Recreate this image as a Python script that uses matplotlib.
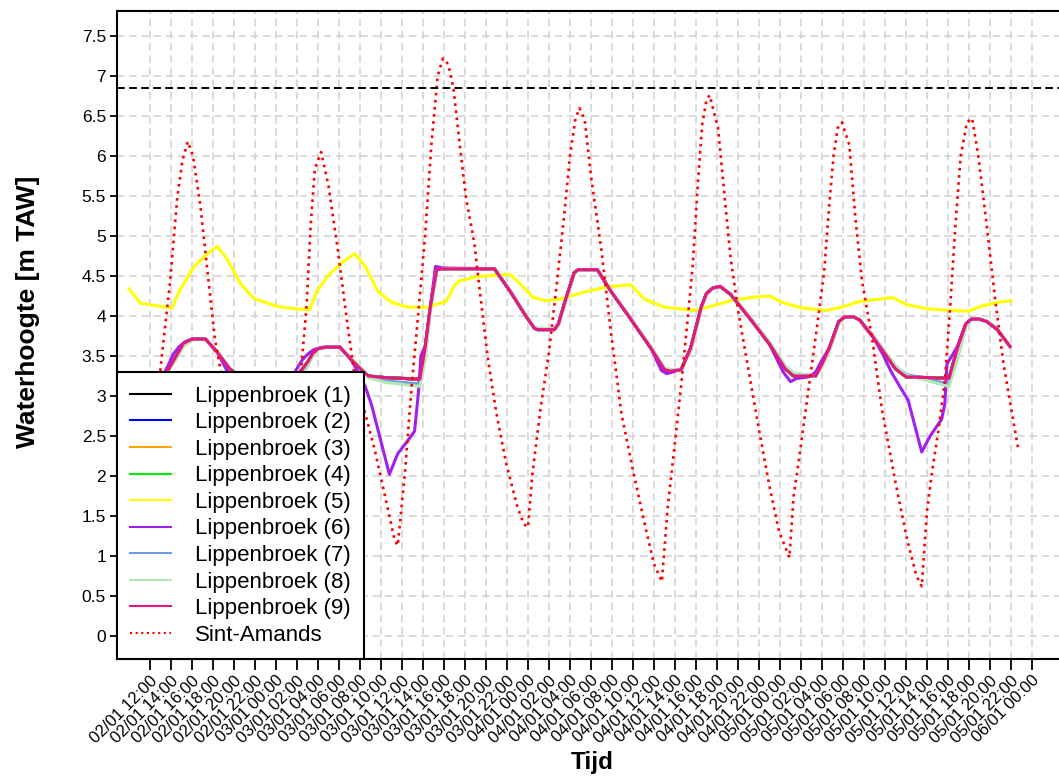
import numpy as np
import pandas as pd
import matplotlib
matplotlib.use("Agg")
import matplotlib.pyplot as plt
import matplotlib.dates as mdates

plt.rcParams["font.family"] = ["Liberation Sans", "DejaVu Sans"]

# tijd in uren t.o.v. 02/01 12:00
start = pd.Timestamp("2019-01-02 12:00")

# Lippenbroek (1)-(4) en (9) vallen samen
t_lb = [-2, -1, 0, 1, 1.8, 2.5, 3.2, 4.0, 5.3, 6.4, 7.6, 8.5, 10, 13.5, 14.3,
        15.0, 15.5, 16.0, 16.7, 18.1, 19.2, 20.2, 20.8, 22.4, 25.7, 26.2, 26.7,
        27.3, 27.9, 32.8, 34.3, 35.8, 36.6, 36.9, 38.5, 38.9, 39.6, 40.4, 40.8,
        42.6, 43.9, 45.8, 47.7, 49.0, 49.6, 50.6, 51.5, 52.5, 53.0, 53.6, 54.3,
        55.3, 57.2, 59.0, 60.5, 61.3, 63.4, 64.0, 64.7, 65.6, 66.2, 67.0, 67.6,
        68.8, 71.0, 72.0, 76.1, 76.9, 77.7, 78.2, 79.0, 79.7, 80.7, 81.9]
lb_main = [3.28, 3.25, 3.22, 3.24, 3.34, 3.50, 3.66, 3.71, 3.71, 3.55, 3.34, 3.25,
           3.22, 3.21, 3.30, 3.42, 3.53, 3.59, 3.61, 3.61, 3.45, 3.32, 3.25, 3.23,
           3.21, 3.60, 4.11, 4.58, 4.59, 4.59, 4.31, 4.00, 3.85, 3.83, 3.83, 3.90,
           4.21, 4.54, 4.58, 4.58, 4.31, 3.96, 3.60, 3.33, 3.31, 3.33, 3.60, 4.11,
           4.28, 4.35, 4.37, 4.27, 3.96, 3.65, 3.34, 3.25, 3.25, 3.40, 3.60, 3.93,
           3.99, 3.99, 3.95, 3.75, 3.34, 3.24, 3.22, 3.60, 3.90, 3.96, 3.96, 3.93,
           3.83, 3.62]
lb_7 = [3.28, 3.25, 3.22, 3.24, 3.34, 3.48, 3.64, 3.71, 3.71, 3.55, 3.34, 3.23,
        3.18, 3.15, 3.26, 3.40, 3.52, 3.59, 3.61, 3.61, 3.46, 3.33, 3.24, 3.19,
        3.15, 3.50, 4.08, 4.58, 4.59, 4.59, 4.31, 4.00, 3.85, 3.84, 3.84, 3.90,
        4.20, 4.54, 4.58, 4.58, 4.31, 3.96, 3.61, 3.34, 3.32, 3.33, 3.58, 4.10,
        4.28, 4.35, 4.37, 4.27, 3.97, 3.67, 3.37, 3.28, 3.25, 3.38, 3.58, 3.92,
        3.99, 3.99, 3.95, 3.76, 3.37, 3.27, 3.15, 3.52, 3.88, 3.96, 3.96, 3.93,
        3.83, 3.62]
lb_8 = [3.28, 3.25, 3.22, 3.24, 3.33, 3.46, 3.62, 3.70, 3.71, 3.56, 3.35, 3.22,
        3.16, 3.12, 3.22, 3.36, 3.50, 3.58, 3.61, 3.61, 3.47, 3.34, 3.23, 3.17,
        3.12, 3.45, 4.05, 4.57, 4.59, 4.59, 4.32, 4.01, 3.86, 3.85, 3.84, 3.89,
        4.18, 4.53, 4.58, 4.58, 4.32, 3.97, 3.62, 3.35, 3.33, 3.33, 3.56, 4.08,
        4.27, 4.35, 4.37, 4.28, 3.98, 3.68, 3.38, 3.29, 3.24, 3.36, 3.56, 3.90,
        3.99, 3.99, 3.95, 3.77, 3.38, 3.26, 3.12, 3.45, 3.86, 3.96, 3.96, 3.93,
        3.83, 3.62]

t_lb6 = [-2, -1, 0, 1.0, 1.8, 2.2, 2.8, 3.4, 4.0, 5.3, 6.4, 7.4, 8.5, 9.5, 10.3,
         11.5, 12.5, 13.2, 13.8, 14.5, 15.0, 15.6, 16.4, 18.1, 19.2, 19.8, 20.5,
         21.1, 22.1, 22.8, 23.6, 24.6, 25.2, 25.6, 25.8, 26.3, 26.7, 27.2, 27.9,
         32.8, 34.3, 35.8, 36.6, 36.9, 38.5, 38.9, 39.6, 40.4, 40.8, 42.6, 43.9,
         45.8, 47.7, 48.7, 49.2, 49.8, 50.6, 51.5, 52.5, 53.0, 53.6, 54.3, 55.3,
         57.2, 59.0, 60.3, 61.0, 61.6, 62.8, 63.4, 64.0, 64.7, 65.6, 66.2, 67.0,
         67.6, 68.8, 69.8, 70.6, 71.5, 72.2, 72.8, 73.5, 74.3, 75.4, 75.7, 75.9,
         76.5, 76.9, 77.7, 78.2, 79.0, 79.7, 80.7, 81.9]
lb_6 = [3.25, 3.15, 3.05, 3.20, 3.40, 3.52, 3.62, 3.68, 3.71, 3.71, 3.55, 3.30,
        2.80, 2.30, 2.10, 2.40, 2.70, 3.10, 3.30, 3.45, 3.52, 3.58, 3.61, 3.61,
        3.45, 3.30, 3.12, 2.89, 2.38, 2.02, 2.28, 2.45, 2.56, 3.09, 3.50, 3.65,
        4.11, 4.62, 4.60, 4.59, 4.31, 4.00, 3.85, 3.83, 3.83, 3.90, 4.21, 4.54,
        4.58, 4.58, 4.31, 3.96, 3.60, 3.32, 3.28, 3.30, 3.34, 3.60, 4.11, 4.28,
        4.35, 4.37, 4.27, 3.96, 3.65, 3.30, 3.18, 3.22, 3.24, 3.30, 3.45, 3.60,
        3.93, 3.99, 3.99, 3.95, 3.75, 3.52, 3.30, 3.10, 2.95, 2.65, 2.30, 2.50,
        2.71, 2.90, 3.40, 3.53, 3.62, 3.90, 3.96, 3.96, 3.93, 3.83, 3.62]

t_lb5 = [-2.0, -0.9, 1.0, 2.1, 2.7, 4.2, 5.4, 6.4, 7.3, 8.6, 9.9, 12.1, 13.8, 15.2,
         15.9, 17.0, 18.3, 19.5, 20.5, 21.7, 23.0, 24.6, 26.5, 27.4, 28.2, 29.0,
         29.5, 31.1, 32.7, 34.3, 35.2, 36.5, 37.7, 39.0, 40.6, 42.0, 43.9, 45.8,
         47.1, 49.0, 51.8, 53.1, 55.3, 57.1, 59.0, 60.2, 62.1, 64.4, 65.9, 67.5,
         70.7, 72.1, 74.0, 76.2, 78.0, 79.1, 80.7, 82.0]
lb_5 = [4.34, 4.16, 4.12, 4.10, 4.29, 4.62, 4.77, 4.87, 4.72, 4.41, 4.22, 4.12,
        4.09, 4.08, 4.31, 4.51, 4.67, 4.78, 4.62, 4.31, 4.17, 4.11, 4.11, 4.15,
        4.18, 4.38, 4.44, 4.49, 4.51, 4.52, 4.41, 4.23, 4.19, 4.21, 4.27, 4.32,
        4.37, 4.39, 4.21, 4.11, 4.07, 4.11, 4.19, 4.23, 4.25, 4.17, 4.10, 4.07,
        4.11, 4.18, 4.23, 4.14, 4.09, 4.07, 4.06, 4.12, 4.17, 4.19]

t_sa = [-1.0, -0.4, 0.3, 1.0, 1.9, 2.6, 3.1, 3.6, 4.1, 4.8, 5.6, 6.2, 6.7, 7.5,
        8.5, 9.5, 10.5, 11.3, 11.8, 12.5, 13.3, 14.0, 14.4, 14.9, 15.3, 15.7,
        16.3, 17.0, 17.9, 18.7, 19.5, 20.5, 21.4, 22.7, 23.3, 23.6, 24.3, 24.9,
        25.6, 26.2, 26.8, 27.4, 27.9, 28.4, 28.9, 29.5, 30.1, 30.9, 31.6, 32.2,
        33.0, 33.9, 35.0, 35.6, 36.0, 36.4, 37.2, 38.0, 38.7, 39.4, 40.0, 40.5,
        40.9, 41.4, 42.0, 43.0, 43.9, 44.9, 46.0, 47.1, 48.0, 48.75, 49.3, 49.9,
        50.6, 51.2, 51.7, 52.2, 52.6, 53.0, 53.3, 54.1, 54.7, 55.3, 56.1, 57.1,
        58.0, 59.0, 59.9, 60.9, 61.3, 61.8, 62.4, 63.4, 64.2, 64.7, 65.1, 65.5,
        65.9, 66.6, 67.2, 67.8, 68.8, 69.7, 71.0, 72.1, 73.0, 73.5, 74.0, 74.5,
        75.1, 75.7, 76.2, 76.7, 77.2, 77.8, 78.3, 78.9, 79.7, 80.5, 81.3, 82.1,
        82.7]
sint_amands = [1.60, 1.40, 2.30, 3.34, 4.41, 5.48, 5.95, 6.18, 6.00, 5.38, 4.41,
               3.70, 3.34, 2.85, 2.35, 1.90, 1.50, 1.20, 1.10, 1.80, 2.70, 3.10,
               3.34, 4.10, 5.12, 5.84, 6.05, 5.63, 4.82, 4.00, 3.24, 2.78, 2.33,
               1.56, 1.20, 1.13, 2.07, 3.09, 4.10, 5.00, 6.14, 7.00, 7.22, 7.15,
               6.85, 6.14, 5.48, 4.90, 4.10, 3.45, 2.78, 2.17, 1.61, 1.40, 1.36,
               2.00, 2.85, 3.55, 4.35, 5.20, 6.00, 6.45, 6.60, 6.45, 5.75, 4.82,
               3.80, 2.78, 2.07, 1.41, 0.90, 0.68, 1.60, 2.30, 3.15, 3.95, 4.65,
               5.70, 6.40, 6.70, 6.76, 6.35, 5.53, 4.72, 4.00, 3.25, 2.58, 1.87,
               1.31, 0.98, 1.75, 2.20, 2.78, 3.74, 4.55, 5.40, 6.00, 6.35, 6.42,
               6.14, 5.20, 4.45, 3.70, 2.84, 1.92, 1.21, 0.75, 0.62, 1.56, 2.07,
               2.58, 3.19, 4.10, 5.12, 5.99, 6.42, 6.47, 5.99, 5.12, 4.20, 3.39,
               2.78, 2.33]

grens = 6.85  # horizontale referentielijn


def tijd(uren):
    return start + pd.to_timedelta(np.array(uren), unit="h")


fig = plt.figure(figsize=(10.59, 7.78), dpi=100)
ax = fig.add_axes([117 / 1059, 119 / 778, 953 / 1059, 648 / 778])

reeksen = [
    ("Lippenbroek (1)", t_lb, lb_main, "black"),
    ("Lippenbroek (2)", t_lb, lb_main, "blue"),
    ("Lippenbroek (3)", t_lb, lb_main, "#ffa500"),
    ("Lippenbroek (4)", t_lb, lb_main, "#00ee00"),
    ("Lippenbroek (5)", t_lb5, lb_5, "#ffff00"),
    ("Lippenbroek (6)", t_lb6, lb_6, "#a020f0"),
    ("Lippenbroek (7)", t_lb, lb_7, "#6c9ee8"),
    ("Lippenbroek (8)", t_lb, lb_8, "#b4e8b4"),
    ("Lippenbroek (9)", t_lb, lb_main, "#e8177f"),
]
for naam, t, v, kleur in reeksen:
    ax.plot(tijd(t), v, color=kleur, lw=2.2, label=naam)

ax.plot(tijd(t_sa), sint_amands, color="red", lw=1.9, ls=(0, (1, 1.7)),
        label="Sint-Amands")
ax.axhline(grens, color="black", lw=1.4, ls=(0, (4, 2.2)))

# assen
ax.set_xlim(tijd([-3.14])[0], tijd([87.62])[0])
ax.set_ylim(-0.2875, 7.8125)
xticks = pd.date_range("2019-01-02 12:00", "2019-01-06 00:00", freq="2h")
ax.set_xticks(xticks)
ax.xaxis.set_major_formatter(mdates.DateFormatter("%d/%m %H:%M"))
yticks = np.arange(0, 7.51, 0.5)
ax.set_yticks(yticks)
ax.set_yticklabels(["%g" % y for y in yticks])
plt.setp(ax.get_xticklabels(), rotation=45, ha="right", va="top",
         rotation_mode="anchor")
ax.tick_params(axis="x", length=8, width=1.3, labelsize=12, pad=2)
ax.tick_params(axis="y", length=5, width=1.3, labelsize=12.5, pad=3)

ax.grid(True, color="#d4d4d4", lw=1.2, ls=(0, (4.5, 2.8)))
ax.set_axisbelow(True)
for s in ["left", "top", "bottom"]:
    ax.spines[s].set_linewidth(1.5)
ax.spines["right"].set_visible(False)

fig.text(28 / 1059, 1 - 312 / 778, "Waterhoogte [m TAW]", rotation=90,
         ha="center", va="center", fontsize=19, fontweight="bold")
fig.text(592 / 1059, 1 - 763 / 778, "Tijd", ha="center", va="center",
         fontsize=17.5, fontweight="bold")

leg = ax.legend(loc="lower left", borderaxespad=0, fontsize=16,
                fancybox=False, framealpha=1, edgecolor="black",
                handlelength=1.85, handletextpad=1.05, labelspacing=0.25,
                borderpad=0.6)
leg.get_frame().set_linewidth(1.5)
for line in leg.get_lines():
    line.set_linewidth(1.5)

fig.savefig("out.png", dpi=100)
